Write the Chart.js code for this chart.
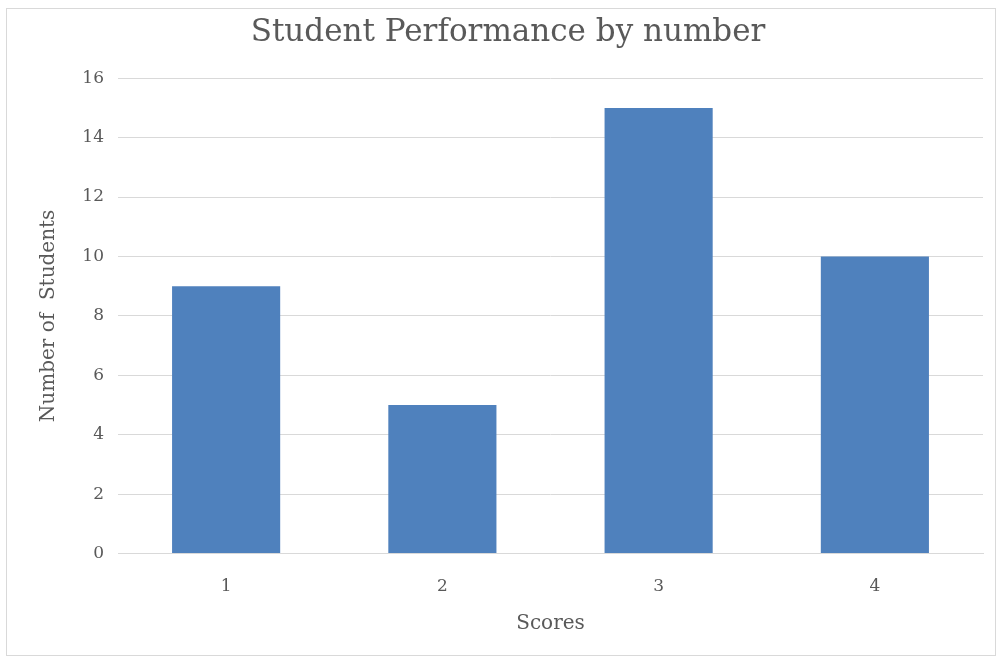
<!DOCTYPE html>
<html>
<head>
<meta charset="utf-8">
<script src="https://cdn.jsdelivr.net/npm/chart.js@4/dist/chart.umd.min.js"></script>
<style>
    body { margin: 0; background: #fff; }
    #frame { position: absolute; left: 6px; top: 8px; width: 988px; height: 646px; border: 1px solid #d9d9d9; }
    #chart { position: absolute; left: 0; top: 0; }
</style>
</head>
<body>
<div id="frame"></div>
<canvas id="chart" width="998" height="657"></canvas>
<script>
var categories = ['1', '2', '3', '4'];
var students = [9, 5, 15, 10];
var chartTitle = 'Student Performance by number';
var xTitle = 'Scores';
var yTitle = 'Number of  Students';

var textColor = '#595959';
var fontFamily = '"DejaVu Serif", "Liberation Serif", serif';

var ctx = document.getElementById('chart').getContext('2d');
new Chart(ctx, {
    type: 'bar',
    data: {
        labels: categories,
        datasets: [{
            label: yTitle,
            data: students,
            backgroundColor: '#4f81bd',
            barPercentage: 0.5,
            categoryPercentage: 1
        }]
    },
    options: {
        responsive: false,
        animation: false,
        layout: { padding: { left: 33, right: 15, top: 10, bottom: 17 } },
        plugins: {
            legend: { display: false },
            tooltip: { enabled: false },
            title: {
                display: true,
                text: chartTitle,
                color: textColor,
                font: { family: fontFamily, size: 31, weight: 'normal' },
                padding: { top: 4, bottom: 27 }
            }
        },
        scales: {
            x: {
                grid: { display: false },
                border: { color: '#d9d9d9' },
                ticks: { color: textColor, font: { family: fontFamily, size: 17 }, padding: 15 },
                title: { display: true, text: xTitle, color: textColor, font: { family: fontFamily, size: 20 }, padding: { top: 0 } }
            },
            y: {
                min: 0,
                max: 16,
                ticks: { stepSize: 2, color: textColor, font: { family: fontFamily, size: 17 }, padding: 14 },
                grid: { color: '#d9d9d9', drawTicks: false },
                border: { display: false },
                title: { display: true, text: yTitle, color: textColor, font: { family: fontFamily, size: 20 }, padding: { top: 4 } },
                afterFit: function(scale) { scale.width = 85; }
            }
        }
    }
});
</script>
</body>
</html>
